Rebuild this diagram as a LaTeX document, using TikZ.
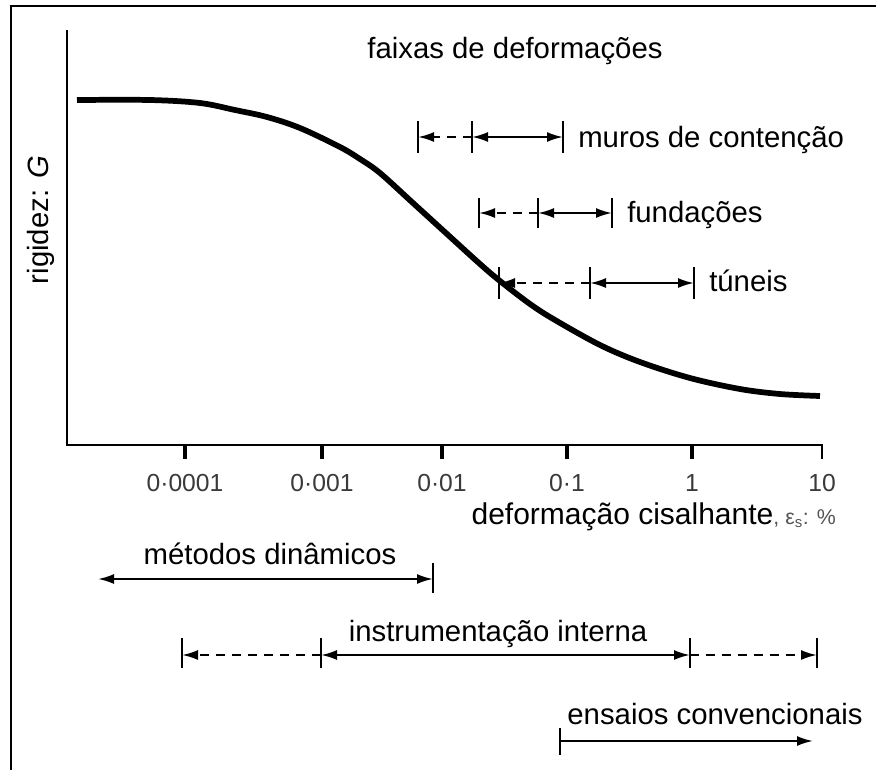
\documentclass[tikz,border=0pt]{standalone}
\usepackage{fontspec}
\setmainfont{Liberation Sans}
\usetikzlibrary{arrows.meta}
\definecolor{tickgray}{HTML}{3A3A3A}
\definecolor{unitgray}{HTML}{555555}
\begin{document}
\begin{tikzpicture}[x=0.75pt,y=-0.75pt,
  frameline/.style={line width=1.7pt},
  axisline/.style={line width=1.8pt},
  tickline/.style={line width=2.4pt},
  curveline/.style={line width=4.3pt},
  barline/.style={line width=1.9pt},
  tip/.tip={Latex[length=12pt,width=7.5pt]},
  botharr/.style={line width=1.6pt,{tip}-{tip}},
  endarr/.style={line width=1.6pt,-{tip}},
  dasharr/.style={line width=1.6pt,-{tip},dash pattern=on 7pt off 5pt},
  lbl/.style={inner sep=0pt,font=\fontsize{22}{26}\selectfont},
  ticklbl/.style={inner sep=0pt,anchor=base,text=tickgray,font=\fontsize{18.5}{20}\selectfont}]
\useasboundingbox (0,0) rectangle (876,769);
\fill[white] (0,0) rectangle (876,769);
% frame
\draw[frameline] (11,780) -- (11,6) -- (890,6);
% axes
\coordinate (ytop) at (67,30);
\coordinate (orig) at (67,445);
\coordinate (xend) at (822,445);
\draw[axisline] (ytop) -- (orig) -- (xend) -- ++(0,14);
% ticks and labels
\foreach \x/\t [count=\i] in {185/0·0001,322/0·001,442/0·01,567/0·1,692/1} {
  \coordinate (tk\i) at (\x,445);
  \draw[tickline] (tk\i) -- ++(0,14);
  \node[ticklbl] (tl\i) at (\x,491) {\t};
}
\node[ticklbl] (tl6) at (822,491) {10};
% y label
\node[lbl,rotate=90] (ylab) at (41,220) {rigidez: \textit{G}};
% x label
\node[lbl,anchor=base east,font=\fontsize{22.5}{26}\selectfont] (xlab) at (836,524) {deformação cisalhante{\color{unitgray}\fontsize{16}{18}\selectfont, ε\textsubscript{s}: \%}};
% curve
\draw[curveline] plot[smooth,tension=0.55] coordinates {
(77,100) (150,100) (200,103) (235,110) (267,117) (300,128) (340,147) (360,159) (380,173)
(413,203) (447,234) (480,264) (500,281) (530,304) (555,320) (600,345) (640,362)
(690,378) (740,389) (780,394) (820,396)};
% title
\node[lbl,anchor=base] (title) at (515,58) {faixas de deformações};
% muros de contenção
\coordinate (m1) at (418,137); \coordinate (m2) at (472,137); \coordinate (m3) at (563,137);
\foreach \c in {m1,m2,m3} \draw[barline] (\c) +(0,-16) -- +(0,16);
\draw[dasharr] (m2) -- (m1);
\draw[botharr] (m2) -- (m3);
\node[lbl,anchor=base west] (muros) at (578,147) {muros de contenção};
% fundações
\coordinate (f1) at (479,213); \coordinate (f2) at (538,213); \coordinate (f3) at (612,213);
\foreach \c in {f1,f2,f3} \draw[barline] (\c) +(0,-15) -- +(0,15);
\draw[dasharr] (f2) -- (f1);
\draw[botharr] (f2) -- (f3);
\node[lbl,anchor=base west] (fund) at (627,222) {fundações};
% túneis
\coordinate (t1) at (499,283); \coordinate (t2) at (590,283); \coordinate (t3) at (694,283);
\foreach \c in {t1,t2,t3} \draw[barline] (\c) +(0,-16) -- +(0,16);
\draw[dasharr] (t2) -- (t1);
\draw[botharr] (t2) -- (t3);
\node[lbl,anchor=base west] (tun) at (709,291) {túneis};
% métodos dinâmicos
\coordinate (d0) at (98,579); \coordinate (d1) at (433,579);
\draw[barline] (d1) +(0,-16) -- +(0,14);
\draw[botharr] (d0) -- (d1);
\node[lbl,anchor=base] (dyn) at (270,564) {métodos dinâmicos};
% instrumentação interna
\coordinate (i1) at (182,655); \coordinate (i2) at (321,655); \coordinate (i3) at (690,655); \coordinate (i4) at (817,655);
\foreach \c in {i1,i2,i3,i4} \draw[barline] (\c) +(0,-17) -- +(0,13);
\draw[dasharr] (i2) -- (i1);
\draw[botharr] (i2) -- (i3);
\draw[dasharr] (i3) -- (i4);
\node[lbl,anchor=base] (inst) at (498,641) {instrumentação interna};
% ensaios convencionais
\coordinate (e1) at (560,741); \coordinate (e2) at (813,741);
\draw[barline] (e1) +(0,-13) -- +(0,14);
\draw[endarr] (e1) -- (e2);
\node[lbl,anchor=base] (ens) at (715,724) {ensaios convencionais};
\end{tikzpicture}
\end{document}
